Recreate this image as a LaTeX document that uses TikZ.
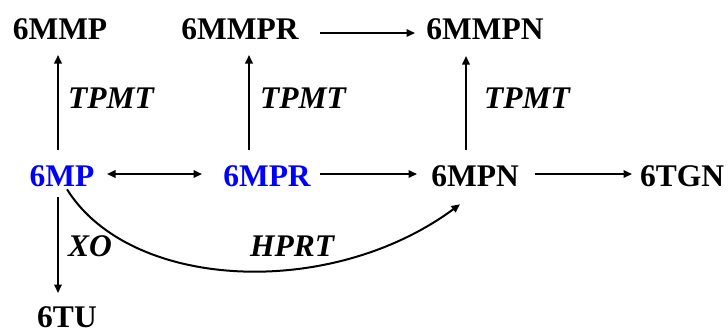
\documentclass[tikz,border=0pt]{standalone}
\usepackage{fontspec}
\setmainfont{Liberation Serif}
\usetikzlibrary{arrows.meta}
\definecolor{mblue}{RGB}{0,0,255}
\tikzset{
  lbl/.style={inner sep=0pt, font=\fontsize{31.5}{36}\selectfont\bfseries},
  enz/.style={inner sep=0pt, font=\fontsize{31.5}{36}\selectfont\bfseries\itshape},
  arr/.style={line width=2pt, -{Triangle[length=8.5pt,width=7.5pt]}},
  darr/.style={line width=2pt, {Triangle[length=8.5pt,width=7.5pt]}-{Triangle[length=8.5pt,width=7.5pt]}}
}
\begin{document}
\begin{tikzpicture}[x=1pt,y=-1pt]
\useasboundingbox (0,0) rectangle (728,333);
% nodes
\node[lbl] (mmp)  at (60,29)  {6MMP};
\node[lbl] (mmpr) at (240,29) {6MMPR};
\node[lbl] (mmpn) at (485,29) {6MMPN};
\node[lbl,text=mblue] (mp)  at (62,176)  {6MP};
\node[lbl,text=mblue] (mpr) at (267,176) {6MPR};
\node[lbl] (mpn) at (475,176) {6MPN};
\node[lbl] (tgn) at (682,176) {6TGN};
\node[lbl] (tu)  at (67,317)  {6TU};
% enzyme labels
\node[enz,anchor=west] (t1) at (68,98)  {TPMT};
\node[enz,anchor=west] (t2) at (260,98) {TPMT};
\node[enz,anchor=west] (t3) at (484,98) {TPMT};
\node[enz] (xo)   at (90,246)  {XO};
\node[enz] (hprt) at (292,246) {HPRT};
% vertical arrows
\draw[arr] ([xshift=-4pt,yshift=26pt]mp.center) -- ([xshift=-2pt,yshift=-26pt]mmp.center);
\draw[arr] ([xshift=-18pt,yshift=26pt]mpr.center) -- ([xshift=9pt,yshift=-26pt]mmpr.center);
\draw[arr] ([xshift=-9pt,yshift=26pt]mpn.center) -- ([xshift=-19pt,yshift=-27pt]mmpn.center);
\draw[arr] ([xshift=-4pt,yshift=-21pt]mp.center) -- ([xshift=-9pt,yshift=24pt]tu.center);
% horizontal arrows
\draw[arr] ([xshift=80pt,yshift=-4pt]mmpr.center) -- ([xshift=-70pt,yshift=-4pt]mmpn.center);
\draw[darr] ([xshift=45pt,yshift=2pt]mp.center) -- ([xshift=-65pt,yshift=2pt]mpr.center);
\draw[arr] ([xshift=53pt,yshift=2pt]mpr.center) -- ([xshift=-58pt,yshift=2pt]mpn.center);
\draw[arr] ([xshift=60pt,yshift=2pt]mpn.center) -- ([xshift=-50pt,yshift=2pt]tgn.center);
% curved HPRT arrow
\draw[arr] ([xshift=5pt,yshift=-2.5pt]mp.south) .. controls +(63,101) and +(-130,96) .. ([xshift=-15pt,yshift=-17.5pt]mpn.south);
\end{tikzpicture}
\end{document}
